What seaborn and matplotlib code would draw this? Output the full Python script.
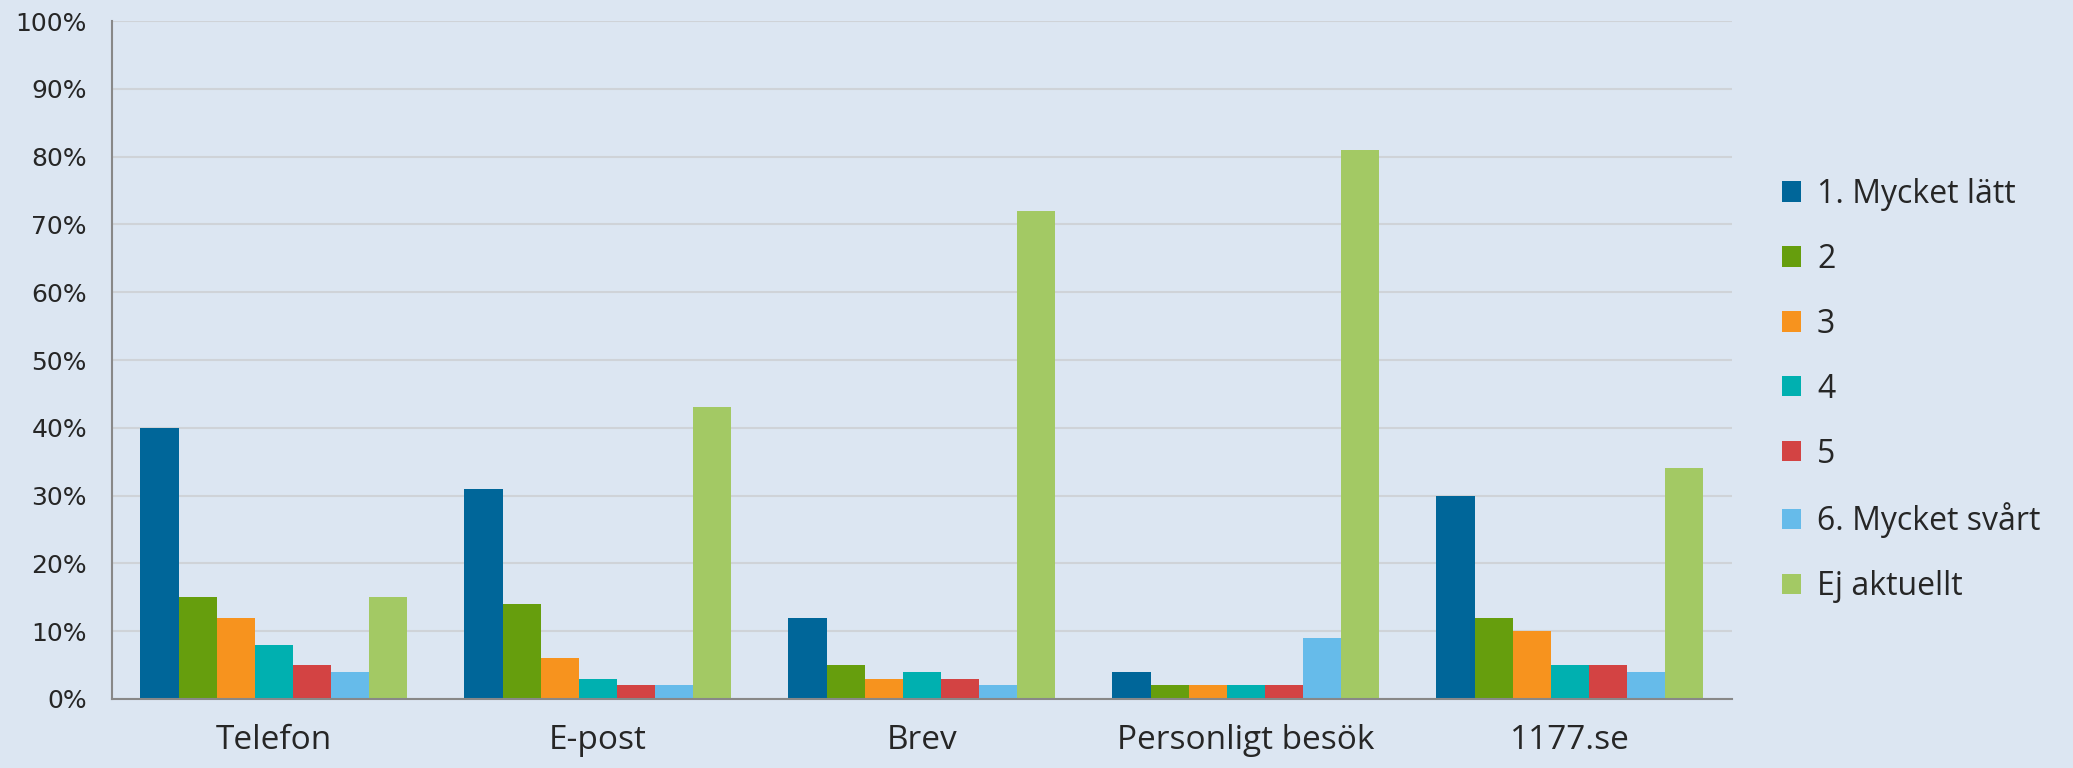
import pandas as pd
import matplotlib
matplotlib.use("Agg")
import matplotlib.pyplot as plt
import seaborn as sns
from matplotlib.ticker import FuncFormatter

categories = ["Telefon", "E-post", "Brev", "Personligt besök", "1177.se"]
series = ["1. Mycket lätt", "2", "3", "4", "5", "6. Mycket svårt", "Ej aktuellt"]
values = {
    "1. Mycket lätt": [40, 31, 12, 4, 30],
    "2": [15, 14, 5, 2, 12],
    "3": [12, 6, 3, 2, 10],
    "4": [8, 3, 4, 2, 5],
    "5": [5, 2, 3, 2, 5],
    "6. Mycket svårt": [4, 2, 2, 9, 4],
    "Ej aktuellt": [15, 43, 72, 81, 34],
}
colors = ["#006699", "#669E0D", "#F7931E", "#00B0B0", "#D34343", "#66BBEA", "#A3C964"]

rows = []
for s in series:
    for c, v in zip(categories, values[s]):
        rows.append({"Kanal": c, "Svar": s, "Andel": v})
df = pd.DataFrame(rows)

sns.set_style("white")
plt.rcParams["font.family"] = ["Open Sans", "DejaVu Sans"]

bg = "#DCE6F2"
fig = plt.figure(figsize=(20.73, 7.68), dpi=100, facecolor=bg)
ax = fig.add_axes([0.054, 0.09, 0.7815, 0.8825], facecolor=bg)

sns.barplot(data=df, x="Kanal", y="Andel", hue="Svar", order=categories,
            hue_order=series, palette=colors, width=0.824, saturation=1,
            linewidth=0, ax=ax)

ax.set_ylim(0, 100)
ax.set_xlim(-0.5, 4.5)
ax.set_yticks(range(0, 101, 10))
ax.yaxis.set_major_formatter(FuncFormatter(lambda v, p: f"{int(v)}%"))
ax.grid(axis="y", color="#CFD3D8", linewidth=1.5)
ax.set_axisbelow(True)
ax.set_xlabel("")
ax.set_ylabel("")

for side in ["top", "right"]:
    ax.spines[side].set_visible(False)
for side in ["left", "bottom"]:
    ax.spines[side].set_color("#888888")
    ax.spines[side].set_linewidth(1.5)

ax.set_xticks([-0.5, 0.5, 1.5, 2.5, 3.5, 4.5], minor=True)
ax.tick_params(axis="x", which="minor", length=10, width=1.5, color="#888888")
ax.tick_params(axis="x", which="major", length=0, labelsize=24, pad=18)
ax.tick_params(axis="y", length=10, width=1.5, color="#888888", labelsize=18, pad=8)
for lab in ax.get_yticklabels():
    lab.set_fontfamily("DejaVu Sans")

ax.legend(loc="center left", bbox_to_anchor=(1.013, 0.455), frameon=False,
          fontsize=23, handlelength=0.6, handleheight=0.6, handletextpad=0.5,
          labelspacing=1.0)

fig.savefig("out.png", dpi=100, facecolor=bg)
